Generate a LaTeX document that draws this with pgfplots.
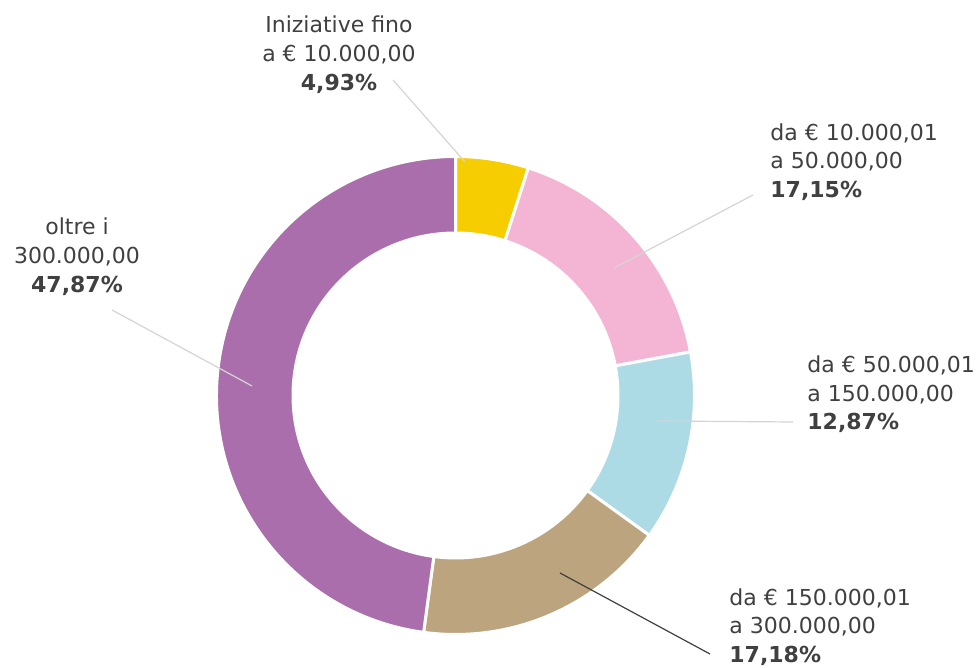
\documentclass[border=0pt]{standalone}
\usepackage{pgfplots}
\usepackage{pgfplotstable}
\pgfplotsset{compat=1.18}
\usepackage{fontspec}
\setmainfont{DejaVu Sans}
\definecolor{cY}{HTML}{F6CD00}
\definecolor{cP}{HTML}{F4B5D4}
\definecolor{cB}{HTML}{ADDBE5}
\definecolor{cT}{HTML}{BCA47E}
\definecolor{cV}{HTML}{AB6EAC}
\definecolor{txt}{HTML}{404040}
\definecolor{lead}{HTML}{D4D4D4}
\tikzset{lbl/.style={inner sep=0pt,text=txt,font=\fontsize{11}{14}\selectfont}}
\pgfplotstableread{
value color
4.93 cY
17.15 cP
12.87 cB
17.18 cT
47.87 cV
}\donutdata
\begin{document}
\begin{tikzpicture}
\begin{axis}[x=0.5pt,y=0.5pt,xmin=0,xmax=976,ymin=0,ymax=668,
  hide axis,clip=false,scale only axis]
\def\cum{90}
\pgfplotsforeachungrouped \i in {0,...,4}{%
  \pgfplotstablegetelem{\i}{value}\of\donutdata \let\v\pgfplotsretval
  \pgfplotstablegetelem{\i}{color}\of\donutdata \let\c\pgfplotsretval
  \pgfmathsetmacro\enda{\cum-3.6*\v}%
  \edef\temp{\noexpand\fill[\c,draw=white,line width=1.5pt]
    (axis cs:{455.5+239*cos(\cum)},{272.5+239*sin(\cum)})
    arc[start angle=\cum,end angle=\enda,radius=119.5pt]
    -- (axis cs:{455.5+162.5*cos(\enda)},{272.5+162.5*sin(\enda)})
    arc[start angle=\enda,end angle=\cum,radius=81.25pt] -- cycle;}%
  \temp
  \global\let\cum\enda
}
% leader lines
\draw[lead,line width=0.6pt] (axis cs:393,588) -- (axis cs:465,506);
\draw[lead,line width=0.6pt] (axis cs:753,473) -- (axis cs:614,400);
\draw[lead,line width=0.6pt] (axis cs:793,246) -- (axis cs:657,247);
\draw[txt,line width=0.6pt] (axis cs:710,14) -- (axis cs:560,95);
\draw[lead,line width=0.6pt] (axis cs:112,358) -- (axis cs:252,282);
% labels
\node[lbl,anchor=base] at (axis cs:339,635) {Iniziative fino};
\node[lbl,anchor=base] at (axis cs:339,606) {a € 10.000,00};
\node[lbl,anchor=base] at (axis cs:339,577) {\bfseries 4,93\%};
\node[lbl,anchor=base west] at (axis cs:770,527) {da € 10.000,01};
\node[lbl,anchor=base west] at (axis cs:770,499) {a 50.000,00};
\node[lbl,anchor=base west] at (axis cs:770,470) {\bfseries 17,15\%};
\node[lbl,anchor=base west] at (axis cs:807,295) {da € 50.000,01};
\node[lbl,anchor=base west] at (axis cs:807,266) {a 150.000,00};
\node[lbl,anchor=base west] at (axis cs:807,238) {\bfseries 12,87\%};
\node[lbl,anchor=base west] at (axis cs:729,62) {da € 150.000,01};
\node[lbl,anchor=base west] at (axis cs:729,34) {a 300.000,00};
\node[lbl,anchor=base west] at (axis cs:729,5) {\bfseries 17,18\%};
\node[lbl,anchor=base] at (axis cs:77,433) {oltre i};
\node[lbl,anchor=base] at (axis cs:77,404) {300.000,00};
\node[lbl,anchor=base] at (axis cs:77,375) {\bfseries 47,87\%};
\end{axis}
\pgfresetboundingbox
\path (0,0) rectangle (488pt,334pt);
\end{tikzpicture}
\end{document}
